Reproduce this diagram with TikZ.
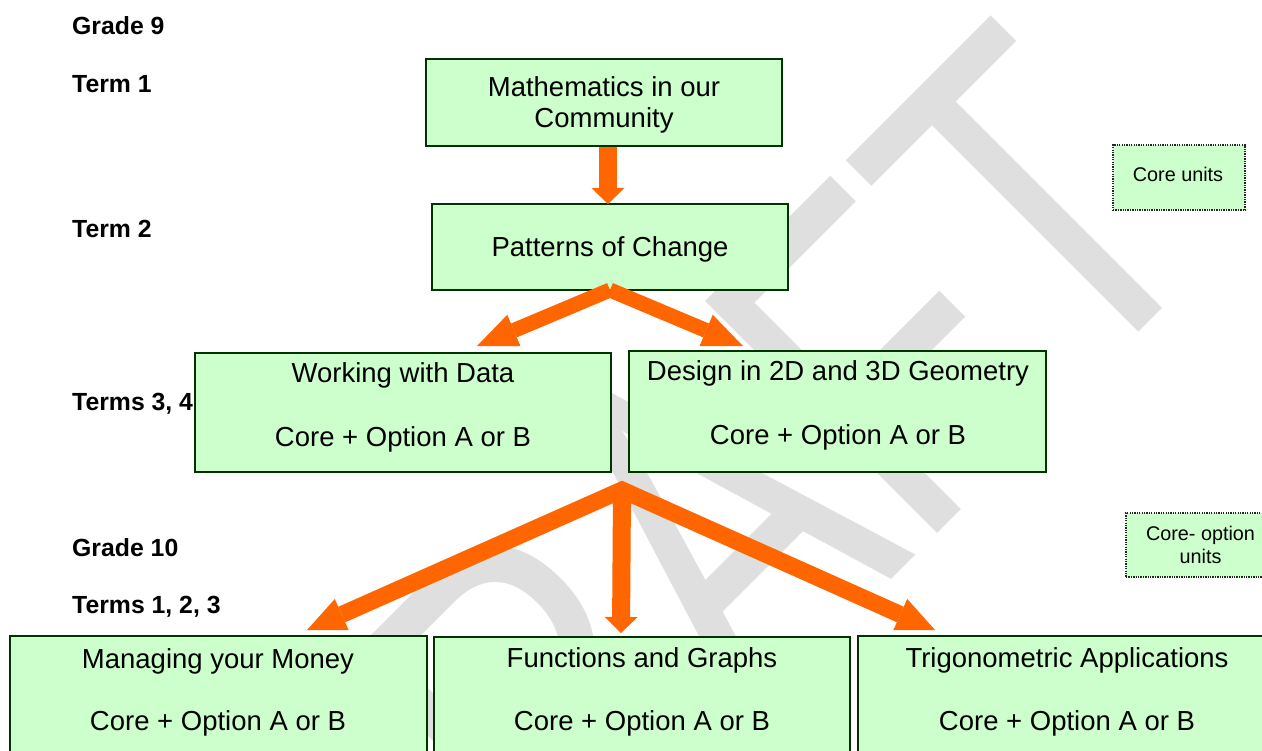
\documentclass[tikz,border=0pt]{standalone}
\usepackage{fontspec}
\setmainfont{Liberation Sans}
\usetikzlibrary{arrows.meta}
\definecolor{boxfill}{HTML}{CCFFCC}
\definecolor{boxline}{HTML}{003300}
\definecolor{arrowc}{HTML}{FF6600}
\definecolor{wmark}{HTML}{DFDFDF}
\begin{document}
\begin{tikzpicture}[x=1pt,y=-1pt,
  unitbox/.style={draw=boxline, line width=2pt, fill=boxfill, rectangle, inner sep=0pt, outer sep=0pt, anchor=north west},
  keybox/.style={draw=black!85, line width=1.3pt, dash pattern=on 1.3pt off 1.1pt, fill=boxfill, rectangle, inner sep=0pt, outer sep=0pt, anchor=north west},
  boxtext/.style={font=\fontsize{27.5}{33}\selectfont, inner sep=0pt, anchor=base},
  keytext/.style={font=\fontsize{19.8}{24}\selectfont, inner sep=0pt, anchor=base},
  lbl/.style={font=\bfseries\fontsize{24.8}{30}\selectfont, inner sep=0pt, anchor=base west},
  vflow/.style={draw=arrowc, line width=18pt, -{Triangle[length=16pt,width=33pt,line width=0pt]}},
  dflow/.style={draw=arrowc, line width=15pt, -{Triangle[length=40pt,width=34pt,line width=0pt]}},
  dflowb/.style={draw=arrowc, line width=17pt, miter limit=20, {Triangle[length=38pt,width=34pt,line width=0pt]}-{Triangle[length=38pt,width=34pt,line width=0pt]}},
]
\useasboundingbox (0,0) rectangle (1262,751);

% watermark
\begin{scope}[shift={(375,1096)}]
\node[rotate=45, xscale=0.76, transform shape, anchor=base west, inner sep=0pt, text=wmark, font=\fontsize{477}{477}\selectfont] (wm) at (0,0) {DRAFT};
\end{scope}

% left labels
\node[lbl] (g9) at (72,35) {Grade 9};
\node[lbl] (t1) at (72,93) {Term 1};
\node[lbl] (t2) at (72,238) {Term 2};
\node[lbl] (t34) at (72,411) {Terms 3, 4};
\node[lbl] (g10) at (72,556) {Grade 10};
\node[lbl] (t123) at (72,613) {Terms 1, 2, 3};

% boxes
\node[unitbox, minimum width=356pt, minimum height=87pt] (m1) at (426,59) {};
\node[unitbox, minimum width=356pt, minimum height=86pt] (pc) at (432,204) {};
\node[unitbox, minimum width=416pt, minimum height=119pt] (wd) at (195,353) {};
\node[unitbox, minimum width=417pt, minimum height=121pt] (dg) at (629,351) {};
\node[unitbox, minimum width=417pt, minimum height=150pt] (mm) at (10,636) {};
\node[unitbox, minimum width=416pt, minimum height=150pt] (fg) at (434,637) {};
\node[unitbox, minimum width=418pt, minimum height=150pt] (ta) at (858,636) {};
\node[keybox, minimum width=132pt, minimum height=65pt] (cu) at (1113,145) {};
\node[keybox, minimum width=154pt, minimum height=64pt] (co) at (1126,513) {};

% box texts
\node[boxtext] (m1a) at (604,96.7) {Mathematics in our};
\node[boxtext] (m1b) at (604,127.5) {Community};
\node[boxtext] (pca) at (610,256.5) {Patterns of Change};
\node[boxtext] (wda) at (403,383) {Working with Data};
\node[boxtext] (wdb) at (403,446.5) {Core + Option A or B};
\node[boxtext] (dga) at (838,381) {Design in 2D and 3D Geometry};
\node[boxtext] (dgb) at (838,444) {Core + Option A or B};
\node[boxtext] (mma) at (218,668) {Managing your Money};
\node[boxtext] (mmb) at (218,730) {Core + Option A or B};
\node[boxtext] (fga) at (642,667) {Functions and Graphs};
\node[boxtext] (fgb) at (642,730) {Core + Option A or B};
\node[boxtext] (taa) at (1067,667) {Trigonometric Applications};
\node[boxtext] (tab) at (1067,730) {Core + Option A or B};
\node[keytext] (cua) at (1178,181.7) {Core units};
\node[keytext] (coa) at (1200.5,540.7) {Core- option};
\node[keytext] (cob) at (1200.5,563.3) {units};

% arrows
\draw[vflow] ([xshift=4pt,yshift=-1pt]m1.south) -- ([xshift=-2pt]pc.north);
\draw[dflow] (pc.south) -- ([xshift=74pt,yshift=7pt]wd.north);
\draw[dflow] (pc.south) -- ([xshift=-94.5pt,yshift=5pt]dg.north);
\coordinate (fork) at (622,490);
\draw[dflowb] ([xshift=88.5pt,yshift=6pt]mm.north) -- (fork) -- ([xshift=-132pt,yshift=6pt]ta.north);
\draw[vflow] (fork) -- ([xshift=-21pt,yshift=4pt]fg.north);
\end{tikzpicture}
\end{document}
